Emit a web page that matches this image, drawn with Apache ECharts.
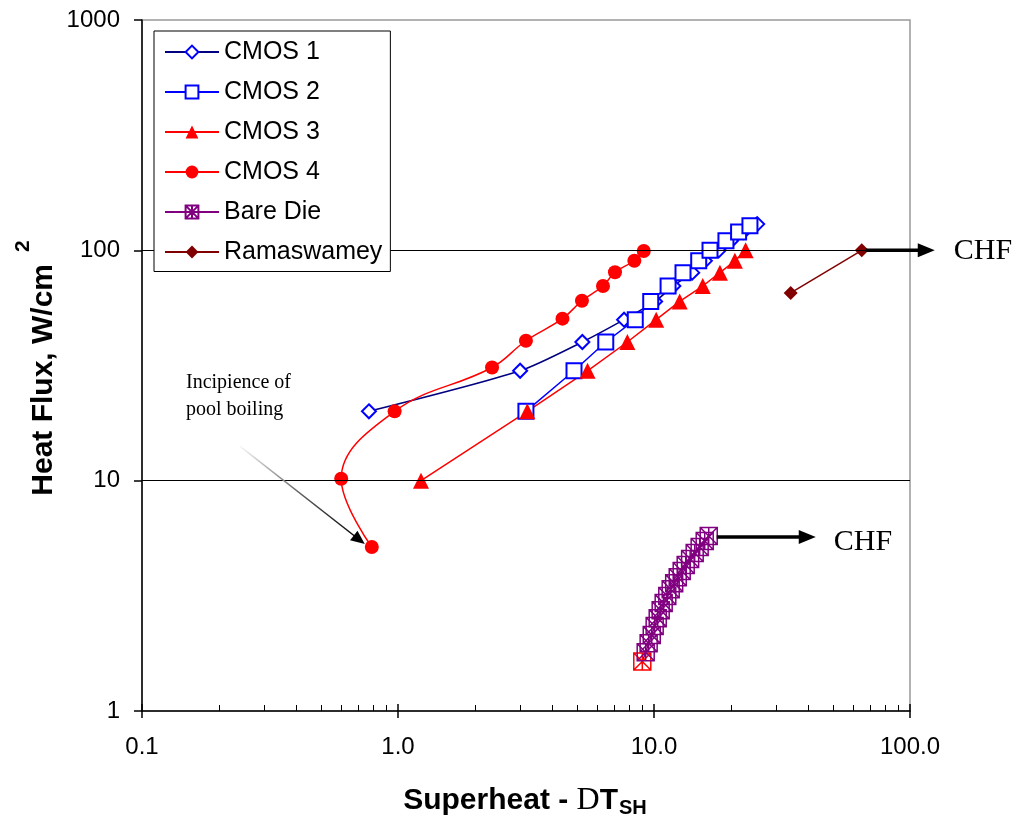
<!DOCTYPE html>
<html><head><meta charset="utf-8">
<script src="https://cdn.jsdelivr.net/npm/echarts@6/dist/echarts.min.js"></script>
<style>html,body{margin:0;padding:0;background:#fff}#c{width:1020px;height:820px}</style>
</head><body><div id="c"></div>
<script>
// ---- data ----
const xTickLabels = ['0.1', '1.0', '10.0', '100.0'];
const yTickLabels = ['1', '10', '100', '1000'];
const gridLevels = [10, 100];

const cmos1X = [0.77, 3.0, 5.25, 7.64, 10.1, 11.9, 14.1, 15.8, 17.9, 20.0, 22.3, 25.3];
const cmos1Y = [20, 30, 40, 50, 60, 70, 80, 90, 100, 110, 120, 130];

const cmos2X = [3.16, 4.87, 6.48, 8.45, 9.71, 11.35, 12.98, 14.95, 16.55, 19.1, 21.4, 23.7];
const cmos2Y = [20, 30, 40, 50, 60, 70, 80, 90, 100, 110, 120, 128];

const cmos3X = [1.23, 3.20, 5.50, 7.87, 10.2, 12.6, 15.5, 18.1, 20.7, 22.8];
const cmos3Y = [10, 20, 30, 40, 50, 60, 70, 80, 90, 100];

const cmos4X = [0.79, 0.60, 0.97, 2.33, 3.16, 4.39, 5.23, 6.32, 7.04, 8.38, 9.12];
const cmos4Y = [5.15, 10.2, 20, 31, 40.5, 50.5, 60.4, 70, 80.3, 90.1, 99.3];

const bareX = [9.0, 9.28, 9.53, 9.80, 10.06, 10.34, 10.62, 10.91, 11.27, 11.62, 11.99, 12.38, 12.83, 13.30, 13.84, 14.42, 15.08, 15.78, 16.36];
const bareY = [1.64, 1.80, 1.97, 2.14, 2.34, 2.53, 2.74, 2.94, 3.16, 3.38, 3.59, 3.81, 4.05, 4.30, 4.57, 4.85, 5.15, 5.47, 5.75];

const ramX = [34.2, 64.8];
const ramY = [65.3, 100];

const seriesNames = ['CMOS 1', 'CMOS 2', 'CMOS 3', 'CMOS 4', 'Bare Die', 'Ramaswamey'];
const annotationText = { chf: 'CHF', incipience: 'Incipience of\npool boiling' };

// ---- helpers ----
const zip = (xs, ys) => xs.map((x, i) => [x, ys[i]]);
const SANS = '"Liberation Sans", Arial, sans-serif';
const SERIF = '"Liberation Serif", "Times New Roman", serif';
const bareSymbol = 'path://M0,0H10V10H0Z M0,0L10,10 M10,0L0,10 M5,0V10';

const bareData = zip(bareX, bareY).map((p, i) => i === 0
  ? { value: p, itemStyle: { borderColor: '#FF0000' } }
  : p);

const chart = echarts.init(document.getElementById('c'), null, { renderer: 'canvas' });

const option = {
  animation: false,
  backgroundColor: '#fff',
  grid: { left: 142, right: 110, top: 20, bottom: 109, show: true, borderColor: '#999', borderWidth: 1.5, backgroundColor: 'transparent' },
  legend: {
    data: seriesNames,
    z: 20,
    orient: 'vertical', left: 154, top: 31,
    itemWidth: 54, itemHeight: 16, itemGap: 15,
    padding: [8.5, 8, 7, 10],
    borderColor: '#000', borderWidth: 1, backgroundColor: '#fff',
    textStyle: { fontFamily: SANS, fontSize: 25, color: '#000', lineHeight: 24 },
    selectedMode: false
  },
  xAxis: [{
    type: 'log', logBase: 10, min: 0.1, max: 100, position: 'bottom',
    axisLine: { show: true, lineStyle: { color: '#000', width: 1.5 } },
    axisTick: { show: true, inside: false, length: 7, lineStyle: { color: '#000', width: 1.5 } },
    minorTick: { show: false },
    splitLine: { show: false },
    axisLabel: { fontFamily: SANS, fontSize: 24, color: '#000', margin: 24,
      formatter: (v, i) => xTickLabels[i] }
  }, {
    type: 'log', logBase: 10, min: 0.1, max: 100, position: 'bottom', offset: 0,
    axisLine: { show: false },
    axisTick: { show: true, inside: true, length: 7, lineStyle: { color: '#000', width: 1.5 } },
    minorTick: { show: true, splitNumber: 9, length: 6, lineStyle: { color: '#000', width: 1 } },
    splitLine: { show: false },
    axisLabel: { show: false }
  }],
  yAxis: {
    type: 'log', logBase: 10, min: 1, max: 1000,
    axisLine: { show: true, lineStyle: { color: '#000', width: 1.5 } },
    axisTick: { show: true, inside: false, length: 8, lineStyle: { color: '#000', width: 1.5 } },
    splitLine: { show: false },
    axisLabel: { fontFamily: SANS, fontSize: 24, color: '#000', margin: 22,
      formatter: (v, i) => yTickLabels[i] }
  },
  series: [
    {
      name: '_grid', type: 'line', data: [], silent: true,
      markLine: {
        silent: true, symbol: ['none', 'none'], label: { show: false },
        lineStyle: { color: '#000', width: 1, type: 'solid' },
        data: gridLevels.map(v => ({ yAxis: v }))
      }
    },
    {
      name: 'CMOS 1', type: 'line', data: zip(cmos1X, cmos1Y), smooth: 0.25,
      symbol: 'emptyDiamond', symbolSize: 14,
      lineStyle: { color: '#000080', width: 1.5 },
      itemStyle: { color: '#0000FF', borderWidth: 1.5 }
    },
    {
      name: 'CMOS 2', type: 'line', data: zip(cmos2X, cmos2Y),
      symbol: 'emptyRect', symbolSize: 15,
      lineStyle: { color: '#0000FF', width: 1.5 },
      itemStyle: { color: '#0000FF', borderWidth: 1.5 }
    },
    {
      name: 'CMOS 3', type: 'line', data: zip(cmos3X, cmos3Y),
      symbol: 'triangle', symbolSize: 16,
      lineStyle: { color: '#FF0000', width: 1.5 },
      itemStyle: { color: '#FF0000' }
    },
    {
      name: 'CMOS 4', type: 'line', data: zip(cmos4X, cmos4Y), smooth: 0.4,
      symbol: 'circle', symbolSize: 14,
      lineStyle: { color: '#FF0000', width: 1.5 },
      itemStyle: { color: '#FF0000' }
    },
    {
      name: 'Bare Die', type: 'line', data: bareData,
      symbol: bareSymbol, symbolSize: 17,
      lineStyle: { color: '#800080', width: 1.5 },
      itemStyle: { color: 'rgba(0,0,0,0)', borderColor: '#800080', borderWidth: 1.5 }
    },
    {
      name: 'Ramaswamey', type: 'line', data: zip(ramX, ramY),
      symbol: 'diamond', symbolSize: 14,
      lineStyle: { color: '#800000', width: 1.5 },
      itemStyle: { color: '#800000' }
    }
  ]
};
chart.setOption(option);

// ---- annotations anchored to data points ----
const toPx = (x, y) => chart.convertToPixel({ xAxisIndex: 0, yAxisIndex: 0 }, [x, y]);
const rEnd = toPx(ramX[ramX.length - 1], ramY[ramY.length - 1]);
const bEnd = toPx(bareX[bareX.length - 1], bareY[bareY.length - 1]);
const c4 = toPx(cmos4X[0], cmos4Y[0]);

function arrow(x0, y0, x1, y1, w, head, headW, stroke) {
  const dx = x1 - x0, dy = y1 - y0, L = Math.hypot(dx, dy);
  const ux = dx / L, uy = dy / L;
  const bx = x1 - ux * head, by = y1 - uy * head;
  return [
    { type: 'line', z: 100, shape: { x1: x0, y1: y0, x2: bx + ux * 1, y2: by + uy * 1 },
      style: { stroke: stroke, lineWidth: w } },
    { type: 'polygon', z: 100, shape: { points: [[x1, y1], [bx - uy * headW, by + ux * headW], [bx + uy * headW, by - ux * headW]] },
      style: { fill: '#000' } }
  ];
}

const incEnd = [c4[0] - 7, c4[1] - 3];
const incStart = [incEnd[0] - 125, incEnd[1] - 98];

chart.setOption({
  graphic: [
    ...arrow(rEnd[0] + 4, rEnd[1], rEnd[0] + 73, rEnd[1], 3.5, 17, 7, '#000'),
    ...arrow(bEnd[0] + 8, bEnd[1] + 1, bEnd[0] + 107, bEnd[1] + 1, 3.5, 17, 7, '#000'),
    ...arrow(incStart[0], incStart[1], incEnd[0], incEnd[1], 1.5, 14, 6,
      { type: 'linear', x: 0, y: 0, x2: 1, y2: 1, colorStops: [{ offset: 0, color: '#ffffff' }, { offset: 0.5, color: '#666' }, { offset: 1, color: '#000' }] }),
    { type: 'text', z: 100, x: rEnd[0] + 92, y: rEnd[1] + 1,
      style: { text: annotationText.chf, font: '30px ' + SERIF, fill: '#000', align: 'left', verticalAlign: 'middle' } },
    { type: 'text', z: 100, x: bEnd[0] + 125, y: bEnd[1] + 6,
      style: { text: annotationText.chf, font: '30px ' + SERIF, fill: '#000', align: 'left', verticalAlign: 'middle' } },
    { type: 'text', z: 100, x: 186, y: 396,
      style: { text: annotationText.incipience, font: '20px ' + SERIF, lineHeight: 27, fill: '#000', align: 'left', verticalAlign: 'middle' } },
    { type: 'text', z: 100, x: 36, y: 368, rotation: Math.PI / 2,
      style: {
        text: '{t|Heat Flux, W/cm}{s|2}', align: 'center', verticalAlign: 'middle',
        rich: {
          t: { fontFamily: SANS, fontWeight: 'bold', fontSize: 30, lineHeight: 46, verticalAlign: 'bottom', fill: '#000' },
          s: { fontFamily: SANS, fontWeight: 'bold', fontSize: 21, lineHeight: 21, verticalAlign: 'top', padding: [0, 0, 0, 12], fill: '#000' }
        }
      } },
    { type: 'text', z: 100, x: 525, y: 801,
      style: {
        text: '{a|Superheat - }{d|D}{b|T}{c|SH}', align: 'center', verticalAlign: 'middle',
        rich: {
          a: { fontFamily: SANS, fontWeight: 'bold', fontSize: 30, fill: '#000', lineHeight: 34 },
          d: { fontFamily: SERIF, fontWeight: 'normal', fontSize: 32, fill: '#000', lineHeight: 34 },
          b: { fontFamily: SANS, fontWeight: 'bold', fontSize: 30, fill: '#000', lineHeight: 34 },
          c: { fontFamily: SANS, fontWeight: 'bold', fontSize: 20, fill: '#000', lineHeight: 34, verticalAlign: 'bottom', padding: [12, 0, 0, 1] }
        }
      } }
  ]
});
</script>
</body></html>
